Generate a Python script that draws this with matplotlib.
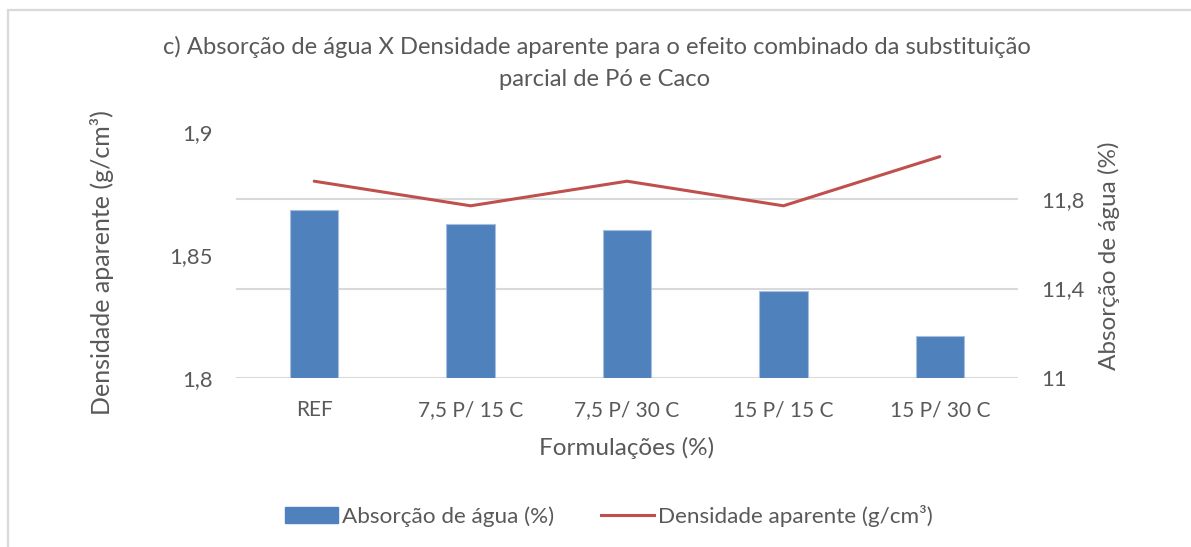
import numpy as np
import matplotlib.pyplot as plt
from matplotlib.patches import Patch, Rectangle
from matplotlib.lines import Line2D

plt.rcParams['font.family'] = ['Lato', 'DejaVu Sans']

categorias = ["REF", "7,5 P/ 15 C", "7,5 P/ 30 C", "15 P/ 15 C", "15 P/ 30 C"]
absorcao = [11.75, 11.69, 11.66, 11.39, 11.19]      # %
densidade = [1.880, 1.870, 1.880, 1.870, 1.890]     # g/cm3

dens_ticks = [1.8, 1.85, 1.9]
dens_labels = ["1,8", "1,85", "1,9"]
abs_ticks = [11, 11.4, 11.8]
abs_labels = ["11", "11,4", "11,8"]

TXT = "#595959"
W, H = 1191, 547


def fx(px):
    return px / W


def fy(py):
    return 1 - py / H


fig = plt.figure(figsize=(W / 100, H / 100), dpi=100)
fig.patches.append(Rectangle((fx(8), fy(560)), fx(1200), fy(10) - fy(560),
                             transform=fig.transFigure, fill=False,
                             edgecolor="#D9D9D9", linewidth=1.6))

ax = fig.add_axes([fx(236), fy(378), fx(1018) - fx(236), fy(132) - fy(378)])
ax2 = ax.twinx()

x = np.arange(len(categorias))

# bars on secondary axis, line on primary
ax2.bar(x, absorcao, width=0.31, color="#4F81BD", edgecolor="#A7BEDF",
        linewidth=0.8, zorder=2)
ax2.set_ylim(11, 12.1)
ax2.set_yticks(abs_ticks)
ax2.set_yticklabels(abs_labels)
ax2.yaxis.grid(True, color="#D9D9D9", linewidth=1.5, zorder=0)
ax2.set_axisbelow(True)

ax.plot(x, densidade, color="#C0504D", linewidth=2.2, zorder=5,
        solid_capstyle="round")
ax.set_ylim(1.8, 1.9)
ax.set_yticks(dens_ticks)
ax.set_yticklabels(dens_labels)
ax.set_xlim(-0.5, len(categorias) - 0.5)
ax.set_xticks(x)
ax.set_xticklabels(categorias)

# line axis drawn on top of bars
ax.set_zorder(ax2.get_zorder() + 1)
ax.patch.set_visible(False)

for a in (ax, ax2):
    for s in a.spines.values():
        s.set_visible(False)
    a.tick_params(length=0, labelsize=15, labelcolor=TXT)
ax.tick_params(axis="y", pad=17, labelsize=15.8)
ax2.tick_params(axis="y", pad=17, labelsize=15.8)
ax.tick_params(axis="x", pad=16)

fig.text(fx(597), fy(47), "c) Absorção de água X Densidade aparente para o efeito combinado da substituição",
         ha="center", va="center", fontsize=17.1, color=TXT)
fig.text(fx(605), fy(80), "parcial de Pó e Caco",
         ha="center", va="center", fontsize=17.1, color=TXT)

fig.text(fx(102), fy(263), "Densidade aparente (g/cm³)", rotation=90,
         ha="center", va="center", fontsize=18, color=TXT)
fig.text(fx(1109), fy(256), "Absorção de água (%)", rotation=90,
         ha="center", va="center", fontsize=17.5, color=TXT)
fig.text(fx(627), fy(448), "Formulações (%)",
         ha="center", va="center", fontsize=17.5, color=TXT)

handles = [Patch(facecolor="#4F81BD", edgecolor="#4F81BD"),
           Line2D([0], [0], color="#C0504D", linewidth=2.2)]
leg = fig.legend(handles, ["Absorção de água (%)", "Densidade aparente (g/cm³)"],
                 loc="center", bbox_to_anchor=(fx(609), fy(516)), ncol=2,
                 frameon=False, fontsize=16.2, handlelength=2.36,
                 handletextpad=0.2, columnspacing=2.05)
for t in leg.get_texts():
    t.set_color(TXT)

fig.savefig("out.png", dpi=100)
